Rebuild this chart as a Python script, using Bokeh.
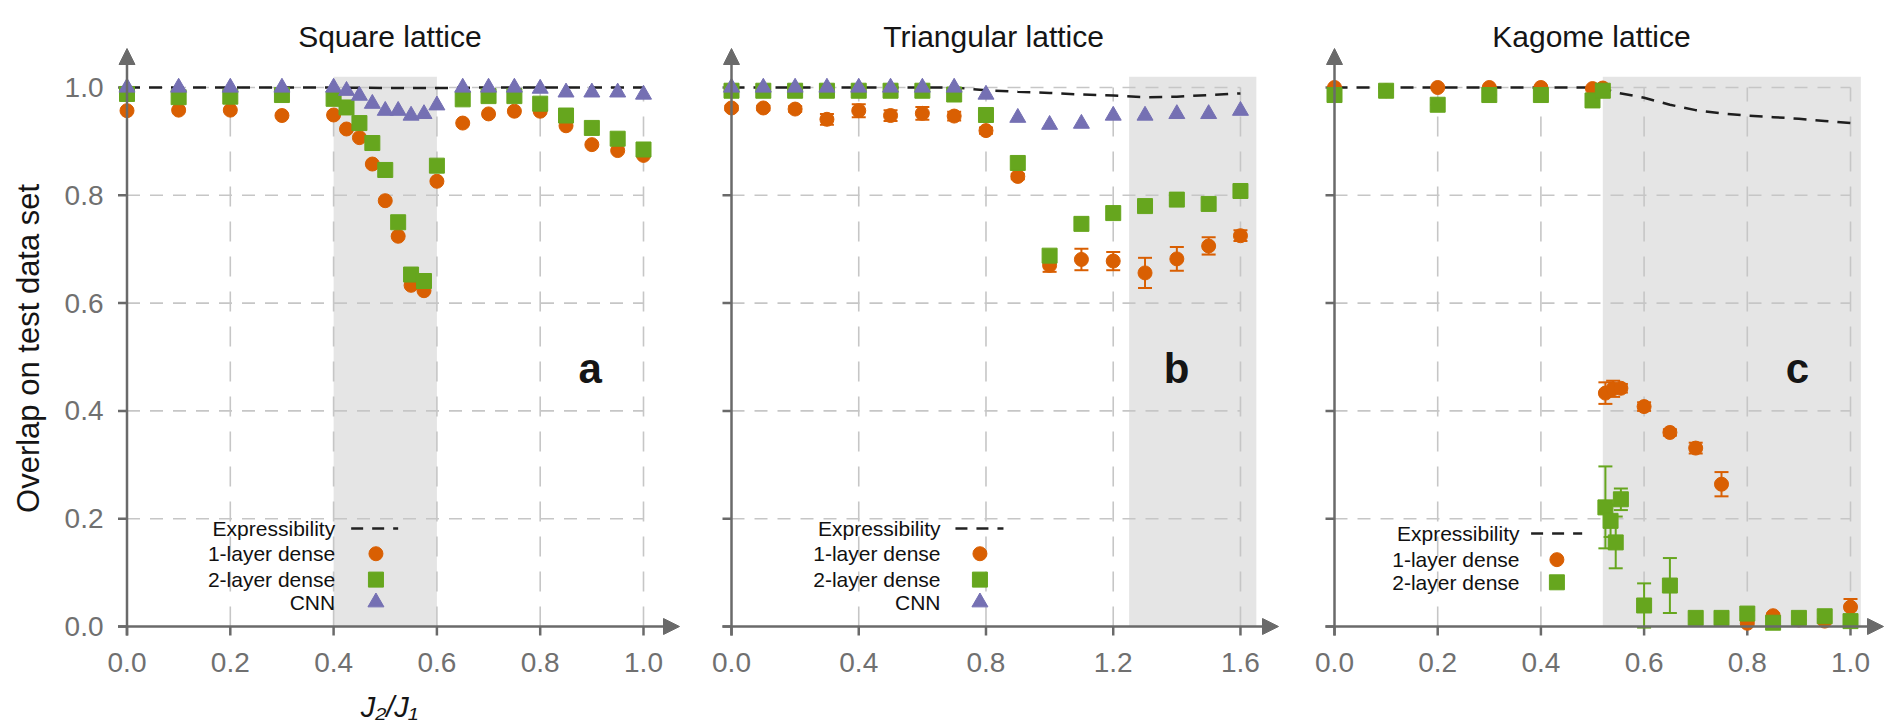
from bokeh.plotting import figure
from bokeh.layouts import row
from bokeh.models import Range1d, Arrow, NormalHead
from bokeh.core.properties import value
from bokeh.embed import file_html
from bokeh.resources import INLINE

# ---------------- data ----------------
# Square lattice
sq_x = [0.0, 0.1, 0.2, 0.3, 0.4, 0.425, 0.45, 0.475, 0.5, 0.525, 0.55, 0.575, 0.6,
        0.65, 0.7, 0.75, 0.8, 0.85, 0.9, 0.95, 1.0]
sq_dense1 = [0.957, 0.958, 0.958, 0.948, 0.949, 0.923, 0.907, 0.858, 0.790, 0.724, 0.633,
             0.623, 0.826, 0.934, 0.951, 0.956, 0.956, 0.929, 0.894, 0.883, 0.874]
sq_dense2 = [0.988, 0.982, 0.983, 0.986, 0.979, 0.963, 0.934, 0.897, 0.847, 0.750, 0.653,
             0.641, 0.855, 0.978, 0.984, 0.984, 0.970, 0.948, 0.925, 0.905, 0.885]
sq_cnn = [1.000, 1.000, 1.000, 1.000, 1.000, 0.994, 0.985, 0.970, 0.957, 0.957, 0.948,
          0.951, 0.967, 1.000, 1.000, 1.000, 0.998, 0.991, 0.991, 0.991, 0.987]
sq_expr_x = [0.0, 0.1, 0.2, 0.3, 0.4, 0.5, 0.6, 0.7, 0.8, 0.9, 1.0]
sq_expr = [1.000, 1.000, 1.000, 1.000, 1.000, 0.999, 0.999, 1.000, 1.000, 1.000, 1.000]
sq_shade = (0.4, 0.6)
sq_xticks = [0.0, 0.2, 0.4, 0.6, 0.8, 1.0]
sq_xtick_labels = ["0.0", "0.2", "0.4", "0.6", "0.8", "1.0"]

# Triangular lattice
tr_x = [0.0, 0.1, 0.2, 0.3, 0.4, 0.5, 0.6, 0.7, 0.8, 0.9, 1.0, 1.1, 1.2, 1.3, 1.4, 1.5, 1.6]
tr_dense1 = [0.962, 0.962, 0.960, 0.941, 0.957, 0.948, 0.952, 0.947, 0.920, 0.835,
             0.670, 0.681, 0.678, 0.656, 0.682, 0.706, 0.725]
tr_dense1_err = [0.004, 0.004, 0.005, 0.010, 0.012, 0.010, 0.012, 0.008, 0.006, 0.005,
                 0.012, 0.020, 0.017, 0.028, 0.022, 0.016, 0.010]
tr_dense2 = [0.994, 0.994, 0.994, 0.994, 0.994, 0.994, 0.994, 0.987, 0.949, 0.860,
             0.688, 0.747, 0.767, 0.780, 0.792, 0.784, 0.808]
tr_cnn = [1.000, 1.000, 1.000, 1.000, 1.000, 1.000, 1.000, 1.000, 0.987, 0.944,
          0.931, 0.933, 0.948, 0.948, 0.951, 0.951, 0.957]
tr_expr = [1.000, 1.000, 1.000, 1.000, 1.000, 1.000, 1.000, 1.000, 0.995, 0.992,
           0.990, 0.987, 0.985, 0.982, 0.983, 0.986, 0.989]
tr_shade = (1.25, 1.65)
tr_xticks = [0.0, 0.4, 0.8, 1.2, 1.6]
tr_xtick_labels = ["0.0", "0.4", "0.8", "1.2", "1.6"]

# Kagome lattice
kg_dense1_x = [0.0, 0.1, 0.2, 0.3, 0.4, 0.5, 0.52, 0.525, 0.54, 0.555, 0.6, 0.65, 0.7,
               0.75, 0.8, 0.85, 0.9, 0.95, 1.0]
kg_dense1 = [1.000, 0.994, 1.000, 1.000, 1.000, 0.998, 0.999, 0.433, 0.441, 0.442, 0.408,
             0.360, 0.331, 0.264, 0.006, 0.020, 0.012, 0.010, 0.036]
kg_dense1_err = [0.0, 0.0, 0.0, 0.0, 0.0, 0.0, 0.0, 0.020, 0.015, 0.008, 0.008,
                 0.006, 0.010, 0.0225, 0.004, 0.004, 0.004, 0.004, 0.015]
kg_dense2_x = [0.0, 0.1, 0.2, 0.3, 0.4, 0.5, 0.52, 0.525, 0.535, 0.545, 0.555, 0.6, 0.65,
               0.7, 0.75, 0.8, 0.85, 0.9, 0.95, 1.0]
kg_dense2 = [0.986, 0.994, 0.968, 0.986, 0.986, 0.976, 0.994, 0.221, 0.196, 0.156, 0.236,
             0.039, 0.076, 0.016, 0.016, 0.024, 0.007, 0.016, 0.019, 0.010]
kg_dense2_err = [0.0, 0.0, 0.0, 0.0, 0.0, 0.0, 0.0, 0.076, 0.030, 0.048, 0.020,
                 0.041, 0.051, 0.005, 0.005, 0.005, 0.004, 0.004, 0.005, 0.005]
kg_expr_x = [0.0, 0.1, 0.2, 0.3, 0.4, 0.5, 0.52, 0.55, 0.6, 0.65, 0.7, 0.75, 0.8, 0.85,
             0.9, 0.95, 1.0]
kg_expr = [1.000, 1.000, 1.000, 1.000, 1.000, 1.000, 0.998, 0.990, 0.981, 0.968, 0.958,
           0.952, 0.948, 0.945, 0.942, 0.938, 0.934]
kg_shade = (0.52, 1.02)
kg_xticks = [0.0, 0.2, 0.4, 0.6, 0.8, 1.0]
kg_xtick_labels = ["0.0", "0.2", "0.4", "0.6", "0.8", "1.0"]

yticks = [0.0, 0.2, 0.4, 0.6, 0.8, 1.0]
ytick_labels = ["0.0", "0.2", "0.4", "0.6", "0.8", "1.0"]
shade_top = 1.02

legend_names = ["Expressibility", "1-layer dense", "2-layer dense", "CNN"]

# ---------------- style ----------------
ORANGE = "#d95f02"
GREEN = "#66a61e"
PURPLE = "#7570b3"
AXIS = "#6a6a6a"
GRID = "#c6c6c6"
SHADE = "#e5e5e5"
FONT = "Liberation Sans"
TICK_COLOR = "#707070"
INK = "#151515"

H = 727
PX_Y = 539.0           # pixels per unit on every y axis
Y_ORIGIN = 626.0       # pixel row of y = 0 (from the top)
Y_START = (Y_ORIGIN - H) / PX_Y
Y_END = Y_ORIGIN / PX_Y
TICK = 9.0             # tick length, px


def text(p, x, y, t, size, **kw):
    opts = dict(text_font=value(FONT), text_font_size=size, text_color=INK,
                text_align="center", text_baseline="alphabetic")
    opts.update(kw)
    p.text(x=x, y=y, text=t, **opts)


def make_panel(width, left_px, origin_px, px_x, xticks, xtick_labels, show_ylabels,
               grid_xmax, shade, arrow_tip_x):
    """Figure whose frame fills the whole canvas; origin_px is the pixel column of x=0."""
    x_start = (left_px - origin_px) / px_x
    x_end = (left_px + width - origin_px) / px_x
    p = figure(width=width, height=H, x_range=Range1d(x_start, x_end),
               y_range=Range1d(Y_START, Y_END), output_backend="svg",
               toolbar_location=None, x_axis_location=None, y_axis_location=None,
               title=None, min_border=0)
    p.outline_line_color = None
    p.grid.visible = False
    dx = TICK / px_x
    dy = TICK / PX_Y

    # shaded regime
    p.quad(left=[shade[0]], right=[shade[1]], bottom=[0.0], top=[shade_top],
           fill_color=SHADE, line_color=None)

    # dashed grid
    hy = [t for t in yticks if t > 0]
    p.segment(x0=[0.0] * len(hy), x1=[grid_xmax] * len(hy), y0=hy, y1=hy,
              line_color=GRID, line_width=1.6, line_dash="13 10")
    vx = [t for t in xticks if t > 0]
    p.segment(x0=vx, x1=vx, y0=[0.0] * len(vx), y1=[1.0] * len(vx),
              line_color=GRID, line_width=1.6, line_dash="20 15")

    # axis lines with arrow heads
    head = dict(size=16, fill_color=AXIS, line_color=AXIS)
    p.add_layout(Arrow(end=NormalHead(**head), x_start=-dx, y_start=0.0,
                       x_end=arrow_tip_x, y_end=0.0, line_color=AXIS, line_width=2.5))
    p.add_layout(Arrow(end=NormalHead(**head), x_start=0.0, y_start=-dy,
                       x_end=0.0, y_end=(Y_ORIGIN - 48) / PX_Y, line_color=AXIS,
                       line_width=2.5))

    # ticks
    p.segment(x0=xticks, x1=xticks, y0=[0.0] * len(xticks), y1=[-dy] * len(xticks),
              line_color=AXIS, line_width=2.5)
    p.segment(x0=[0.0] * len(yticks), x1=[-dx] * len(yticks), y0=yticks, y1=yticks,
              line_color=AXIS, line_width=2.5)

    # tick labels
    text(p, xticks, [-36 / PX_Y] * len(xticks), xtick_labels, "28px",
         text_color=TICK_COLOR, text_baseline="middle")
    if show_ylabels:
        text(p, [-23.5 / px_x] * len(yticks), yticks, ytick_labels, "28px",
             text_color=TICK_COLOR, text_align="right", text_baseline="middle")
    return p


def add_errors(p, xs, ys, errs, color):
    lo = [y - e for y, e in zip(ys, errs)]
    hi = [y + e for y, e in zip(ys, errs)]
    p.segment(x0=xs, x1=xs, y0=lo, y1=hi, line_color=color, line_width=2)
    p.scatter(xs + xs, lo + hi, marker="dash", size=14, line_color=color, line_width=2)


def add_series(p, x1, y1, x2, y2, x3=None, y3=None):
    p.scatter(x1, y1, marker="circle", size=14, fill_color=ORANGE, line_color=ORANGE)
    p.scatter(x2, y2, marker="square", size=15, fill_color=GREEN, line_color=GREEN)
    if x3 is not None:
        p.scatter(x3, y3, marker="triangle", size=16, fill_color=PURPLE, line_color=PURPLE)


def add_legend(p, text_right, marker_x, dash_x0, dash_x1, rows, n):
    names = legend_names[:n]
    text(p, [text_right] * n, rows[:n], names, "21px", text_color="#111111",
         text_align="right", text_baseline="middle")
    p.line([dash_x0, dash_x1], [rows[0], rows[0]], line_color="#222222", line_width=2.5,
           line_dash="12 9")
    markers = [("circle", 14, ORANGE), ("square", 15, GREEN), ("triangle", 16, PURPLE)]
    for (m, s, c), yy in zip(markers[:n - 1], rows[1:n]):
        p.scatter([marker_x], [yy], marker=m, size=s, fill_color=c, line_color=c)


TITLE_Y = (Y_ORIGIN - 36) / PX_Y
LETTER_Y = (Y_ORIGIN - 368) / PX_Y

# ---------------- Square lattice ----------------
pa = make_panel(690, 0, 126.5, 516.5, sq_xticks, sq_xtick_labels, True, 1.0, sq_shade,
                1.0697)
pa.line(sq_expr_x, sq_expr, line_color="#1e1e1e", line_width=2.5, line_dash="13 9")
add_series(pa, sq_x, sq_dense1, sq_x, sq_dense2, sq_x, sq_cnn)
text(pa, [0.509], [TITLE_Y], ["Square lattice"], "30px")
text(pa, [0.897], [LETTER_Y], ["a"], "42px", text_font_style="bold")
add_legend(pa, 0.403, 0.482, 0.434, 0.525, [0.182, 0.135, 0.087, 0.045], 4)
text(pa, [-0.1907], [0.516], ["Overlap on test data set"], "31px", angle=1.5708,
     text_baseline="middle")
text(pa, [0.508], [(Y_ORIGIN - 706) / PX_Y], ["J\u2082/J\u2081"], "29px",
     text_font_style="italic")

# ---------------- Triangular lattice ----------------
pb = make_panel(600, 690, 731.0, 318.1, tr_xticks, tr_xtick_labels, False, 1.6, tr_shade,
                1.7196)
pb.line(tr_x, tr_expr, line_color="#1e1e1e", line_width=2.5, line_dash="13 9")
add_errors(pb, tr_x, tr_dense1, tr_dense1_err, ORANGE)
add_series(pb, tr_x, tr_dense1, tr_x, tr_dense2, tr_x, tr_cnn)
text(pb, [0.824], [TITLE_Y], ["Triangular lattice"], "30px")
text(pb, [1.399], [LETTER_Y], ["b"], "42px", text_font_style="bold")
add_legend(pb, 0.657, 0.781, 0.704, 0.855, [0.182, 0.135, 0.087, 0.045], 4)

# ---------------- Kagome lattice ----------------
pc = make_panel(595, 1290, 1334.0, 516.0, kg_xticks, kg_xtick_labels, False, 1.0, kg_shade,
                1.064)
pc.line(kg_expr_x, kg_expr, line_color="#1e1e1e", line_width=2.5, line_dash="13 9")
add_errors(pc, kg_dense1_x, kg_dense1, kg_dense1_err, ORANGE)
add_errors(pc, kg_dense2_x, kg_dense2, kg_dense2_err, GREEN)
add_series(pc, kg_dense1_x, kg_dense1, kg_dense2_x, kg_dense2)
text(pc, [0.498], [TITLE_Y], ["Kagome lattice"], "30px")
text(pc, [0.897], [LETTER_Y], ["c"], "42px", text_font_style="bold")
add_legend(pc, 0.3585, 0.431, 0.381, 0.480, [0.1725, 0.124, 0.082], 3)

layout = row(pa, pb, pc)
open("out.html", "w").write(file_html(layout, INLINE))
